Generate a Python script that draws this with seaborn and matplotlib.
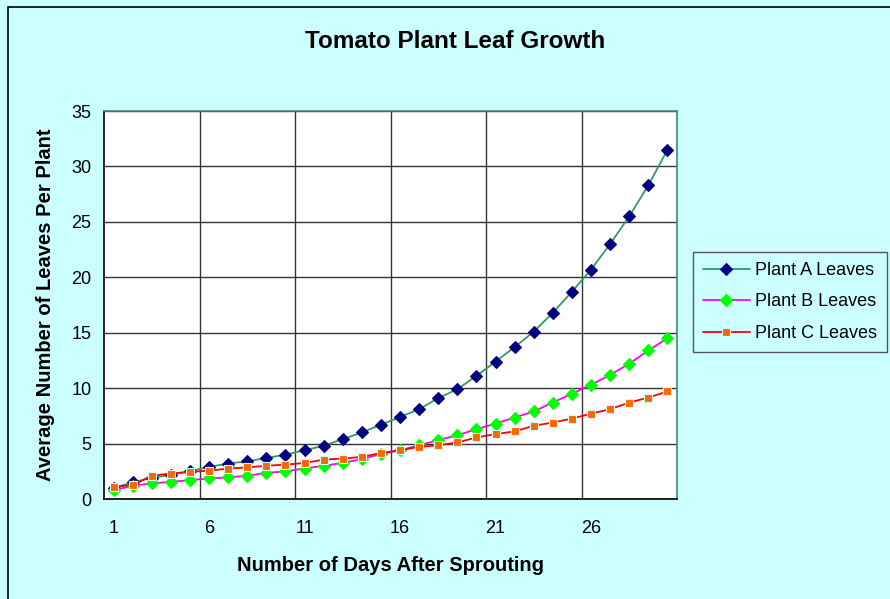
"""Tomato plant leaf growth, three plants over 30 days."""

import numpy as np
import pandas as pd
import seaborn as sns
import matplotlib.pyplot as plt
from matplotlib.patches import Rectangle

days = list(range(1, 31))
plant_a = [1.0, 1.5, 1.9, 2.2, 2.5, 2.9, 3.2, 3.4, 3.7, 4.0,
           4.4, 4.8, 5.4, 6.0, 6.7, 7.4, 8.1, 9.1, 9.9, 11.1,
           12.4, 13.7, 15.1, 16.8, 18.7, 20.7, 23.0, 25.5, 28.3, 31.5]
plant_b = [0.8, 1.2, 1.4, 1.55, 1.7, 1.85, 1.95, 2.1, 2.35, 2.5,
           2.75, 3.0, 3.25, 3.6, 4.05, 4.4, 4.85, 5.3, 5.75, 6.3,
           6.8, 7.35, 7.9, 8.7, 9.5, 10.3, 11.2, 12.2, 13.4, 14.5]
plant_c = [1.1, 1.25, 2.1, 2.3, 2.45, 2.55, 2.75, 2.85, 3.0, 3.1,
           3.25, 3.55, 3.65, 3.8, 4.15, 4.4, 4.7, 4.85, 5.1, 5.55,
           5.85, 6.1, 6.6, 6.9, 7.25, 7.7, 8.1, 8.7, 9.15, 9.7]

series = [
    ("Plant A Leaves", plant_a, "#339966", "D", "#000080", "#000080", 6),
    ("Plant B Leaves", plant_b, "#FF00FF", "D", "#00FF00", "#00FF00", 6),
    ("Plant C Leaves", plant_c, "#FF0000", "s", "#FF6600", "#CCFFFF", 5.5),
]

sns.set_style("white")
plt.rcParams["font.family"] = ["Liberation Sans", "DejaVu Sans"]
plt.rcParams["text.color"] = "black"
plt.rcParams["xtick.color"] = "black"
plt.rcParams["ytick.color"] = "black"
plt.rcParams["axes.labelcolor"] = "black"

bg = "#CCFFFF"
fig = plt.figure(figsize=(8.9, 5.99), dpi=100, facecolor=bg)
ax = fig.add_axes([104 / 890, 1 - 499 / 599, 573 / 890, 388 / 599])
ax.set_facecolor("white")

for name, vals, lc, mk, mfc, mec, ms in series:
    df = pd.DataFrame({"day": days, "leaves": vals})
    sns.lineplot(data=df, x="day", y="leaves", ax=ax, color=lc, lw=1.3,
                 marker=mk, markersize=ms, markerfacecolor=mfc,
                 markeredgecolor=mec, markeredgewidth=0.8, label=name)

ax.set_xlim(0.5, 30.5)
ax.set_ylim(0, 35)
ax.set_yticks(np.arange(0, 36, 5))
ax.set_xticks([1, 6, 11, 16, 21, 26])
ax.set_xticks(np.arange(5.5, 31, 5), minor=True)
ax.tick_params(axis="x", which="major", length=0, labelsize=13, pad=15)
ax.tick_params(axis="x", which="minor", length=5, width=1, color="black",
               direction="out")
ax.tick_params(axis="y", length=5, width=1, color="black", direction="out",
               labelsize=13, pad=4)
ax.grid(False)
ax.grid(True, axis="y", which="major", color="#333333", lw=1)
ax.grid(True, axis="x", which="minor", color="#333333", lw=1)

for side in ["left", "bottom"]:
    ax.spines[side].set_color("black")
for side in ["top", "right"]:
    ax.spines[side].set_color("#3f8f6f")
for sp in ax.spines.values():
    sp.set_linewidth(1.2)

ax.set_xlabel("Number of Days After Sprouting", fontsize=14.5,
              fontweight="bold", labelpad=14)
ax.set_ylabel("Average Number of Leaves Per Plant", fontsize=14.5,
              fontweight="bold", labelpad=12)
fig.text(455 / 890, 1 - 42 / 599, "Tomato Plant Leaf Growth", fontsize=17.5,
         fontweight="bold", ha="center", va="center")

leg = ax.legend(loc="upper left", bbox_to_anchor=(693 / 890, 1 - 252 / 599),
                bbox_transform=fig.transFigure, fontsize=13, frameon=True,
                fancybox=False, edgecolor="#555555", facecolor=bg,
                framealpha=1, borderpad=0.55, labelspacing=0.8,
                handlelength=2.6, handletextpad=0.3, borderaxespad=0)
leg.get_frame().set_linewidth(1)

fig.patches.append(Rectangle((8 / 890, -0.1), 1.2, 1 - 7 / 599 + 0.1,
                             transform=fig.transFigure, fill=False,
                             edgecolor="black", lw=1.2))

fig.savefig("out.png", dpi=100, facecolor=bg)
